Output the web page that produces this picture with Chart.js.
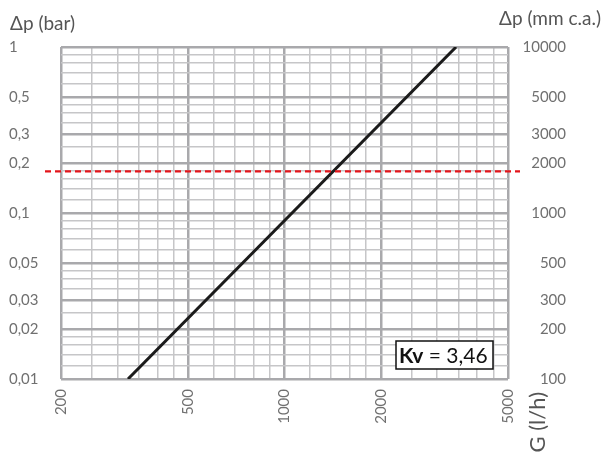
<!DOCTYPE html>
<html>
<head>
<meta charset="utf-8">
<script src="https://cdn.jsdelivr.net/npm/chart.js@4/dist/chart.umd.min.js"></script>
<style>
    html, body { margin: 0; padding: 0; background: #fff; }
    #wrap { width: 603px; height: 452px; }
</style>
</head>
<body>
<div id="wrap"><canvas id="kvChart"></canvas></div>
<script>
// Flow G (l/h) grid ticks
const flowMajor = [200, 500, 1000, 2000, 5000];
const flowMinor = [250, 300, 350, 400, 450, 600, 700, 800, 900, 1200, 1400, 1600, 1800, 2500, 3000, 3500, 4000, 4500];
// Pressure drop (bar) grid ticks
const dpMajor = [0.01, 0.02, 0.03, 0.05, 0.1, 0.2, 0.3, 0.5, 1];
const dpMajorLabels = ['0,01', '0,02', '0,03', '0,05', '0,1', '0,2', '0,3', '0,5', '1'];
const dpMinor = [0.012, 0.014, 0.016, 0.018, 0.025, 0.035, 0.04, 0.045, 0.06, 0.07, 0.08, 0.09,
                 0.12, 0.14, 0.16, 0.18, 0.25, 0.35, 0.4, 0.45, 0.6, 0.7, 0.8, 0.9];
// Pressure drop (mm c.a.) right axis
const mmTicks = [100, 200, 300, 500, 1000, 2000, 3000, 5000, 10000];
const mmLabels = ['100', '200', '300', '500', '1000', '2000', '3000', '5000', '10000'];

// Valve curve
const curveFlow = [324, 3440];
const curveDp = [0.01, 1];
// Red dashed limit (bar)
const dpLimit = 0.178;
const kvValue = '3,46';

const FONT = 'Lato, "Open Sans", sans-serif';
const TEXT = '#707070';
const GRID_MAJOR = '#a9a9ac';
const GRID_MINOR = '#c6c6c8';

function allTicks(major, minor) {
    return major.concat(minor).sort((a, b) => a - b).map(v => ({ value: v }));
}

// titles, red limit line and Kv box
const extrasPlugin = {
    id: 'extras',
    afterDatasetsDraw(chart) {
        const { ctx, chartArea } = chart;
        const y = chart.scales.y.getPixelForValue(dpLimit);
        ctx.save();
        ctx.strokeStyle = '#e3151b';
        ctx.lineWidth = 2.2;
        ctx.setLineDash([6, 4]);
        ctx.beginPath();
        ctx.moveTo(chartArea.left - 16, y);
        ctx.lineTo(chartArea.right + 12, y);
        ctx.stroke();
        ctx.restore();
    },
    afterDraw(chart) {
        const { ctx, chartArea } = chart;
        ctx.save();
        // axis titles
        ctx.fillStyle = '#555';
        ctx.font = '19px ' + FONT;
        ctx.textBaseline = 'alphabetic';
        ctx.textAlign = 'left';
        ctx.fillText('\u0394p (bar)', 10, 30);
        ctx.textAlign = 'right';
        ctx.fillText('\u0394p (mm c.a.)', 601, 25);

        ctx.save();
        ctx.translate(545, chartArea.bottom + 13);
        ctx.rotate(-Math.PI / 2);
        ctx.font = '22px ' + FONT;
        ctx.textAlign = 'right';
        ctx.fillText('G (l/h)', 0, 0);
        ctx.restore();

        // Kv box
        const bw = 97, bh = 28;
        const bx = chartArea.right - 15 - bw;
        const by = chartArea.bottom - 10 - bh;
        ctx.fillStyle = '#fff';
        ctx.fillRect(bx, by, bw, bh);
        ctx.strokeStyle = '#111';
        ctx.lineWidth = 1.5;
        ctx.strokeRect(bx, by, bw, bh);
        ctx.fillStyle = '#111';
        ctx.textAlign = 'left';
        ctx.textBaseline = 'middle';
        ctx.font = 'bold 21px ' + FONT;
        ctx.fillText('Kv', bx + 3, by + bh / 2 + 1);
        const w = ctx.measureText('Kv').width;
        ctx.font = '21px ' + FONT;
        ctx.fillText(' = ' + kvValue, bx + 3 + w, by + bh / 2 + 1);
        ctx.restore();
    }
};

const ctx = document.getElementById('kvChart').getContext('2d');
new Chart(ctx, {
    type: 'scatter',
    data: {
        datasets: [{
            label: 'Kv',
            data: curveFlow.map((g, i) => ({ x: g, y: curveDp[i] })),
            showLine: true,
            borderColor: '#1b1b1b',
            borderWidth: 3,
            pointRadius: 0,
            yAxisID: 'y'
        }]
    },
    options: {
        responsive: true,
        maintainAspectRatio: false,
        animation: false,
        layout: { padding: { left: 9, right: 37, top: 47, bottom: 0 } },
        plugins: {
            legend: { display: false },
            tooltip: { enabled: false }
        },
        scales: {
            x: {
                type: 'logarithmic',
                min: 200,
                max: 5000,
                afterBuildTicks: s => { s.ticks = allTicks(flowMajor, flowMinor); },
                afterFit: s => { s.height = 73; },
                border: { display: false },
                grid: {
                    drawTicks: false,
                    color: c => flowMajor.includes(c.tick.value) ? GRID_MAJOR : GRID_MINOR,
                    lineWidth: c => flowMajor.includes(c.tick.value) ? 2.5 : 1.5
                },
                ticks: {
                    autoSkip: false,
                    minRotation: 90,
                    maxRotation: 90,
                    padding: 10,
                    color: TEXT,
                    font: { family: FONT, size: 15 },
                    callback: v => flowMajor.includes(v) ? String(v) : ''
                }
            },
            y: {
                type: 'logarithmic',
                position: 'left',
                min: 0.01,
                max: 1,
                afterBuildTicks: s => { s.ticks = allTicks(dpMajor, dpMinor); },
                afterFit: s => { s.width = 52; },
                border: { display: false },
                grid: {
                    drawTicks: false,
                    color: c => dpMajor.includes(c.tick.value) ? GRID_MAJOR : GRID_MINOR,
                    lineWidth: c => dpMajor.includes(c.tick.value) ? 2.5 : 1.5
                },
                ticks: {
                    autoSkip: false,
                    crossAlign: 'far',
                    color: TEXT,
                    font: { family: FONT, size: 15 },
                    callback: v => {
                        const i = dpMajor.indexOf(v);
                        return i >= 0 ? dpMajorLabels[i] : '';
                    }
                }
            },
            y2: {
                type: 'logarithmic',
                position: 'right',
                min: 100,
                max: 10000,
                afterBuildTicks: s => { s.ticks = mmTicks.map(v => ({ value: v })); },
                afterFit: s => { s.width = 58; },
                border: { display: false },
                grid: { display: false },
                ticks: {
                    autoSkip: false,
                    crossAlign: 'far',
                    color: TEXT,
                    font: { family: FONT, size: 15 },
                    callback: v => {
                        const i = mmTicks.indexOf(v);
                        return i >= 0 ? mmLabels[i] : '';
                    }
                }
            }
        }
    },
    plugins: [extrasPlugin]
});
</script>
</body>
</html>
